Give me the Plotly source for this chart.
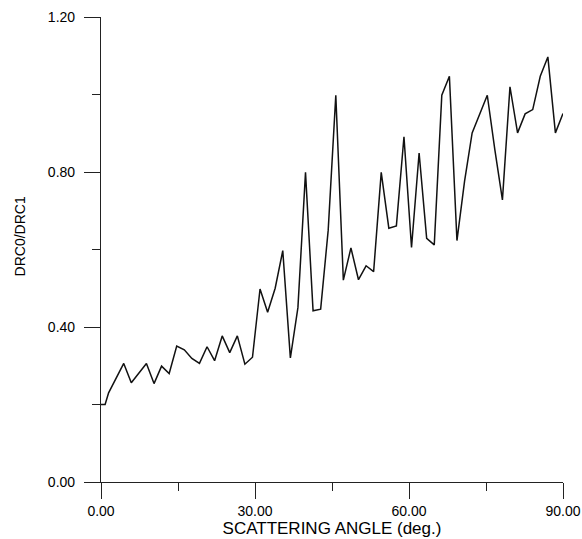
import plotly.graph_objects as go

# Scattering angle (deg.) and DRC0/DRC1 ratio
angle = [0.0, 0.8, 1.48, 2.95, 4.43, 5.9, 7.38, 8.85, 10.33, 11.8, 13.28,
         14.75, 16.23, 17.7, 19.18, 20.66, 22.13, 23.61, 25.08, 26.56, 28.03,
         29.51, 30.98, 32.46, 33.93, 35.41, 36.89, 38.36, 39.84, 41.31, 42.79,
         44.26, 45.74, 47.21, 48.69, 50.16, 51.64, 53.11, 54.59, 56.07, 57.54,
         59.02, 60.49, 61.97, 63.44, 64.92, 66.39, 67.87, 69.34, 70.82, 72.3,
         73.77, 75.25, 76.72, 78.2, 79.67, 81.15, 82.62, 84.1, 85.57, 87.05,
         88.52, 90.0]
ratio = [0.200, 0.200, 0.230, 0.268, 0.306, 0.256, 0.281, 0.306, 0.254, 0.299,
         0.280, 0.351, 0.341, 0.319, 0.306, 0.349, 0.313, 0.377, 0.334, 0.377,
         0.304, 0.322, 0.498, 0.438, 0.500, 0.597, 0.320, 0.450, 0.799, 0.442,
         0.446, 0.650, 0.998, 0.521, 0.604, 0.522, 0.558, 0.543, 0.799, 0.655,
         0.661, 0.891, 0.605, 0.849, 0.629, 0.612, 0.998, 1.047, 0.623, 0.776,
         0.901, 0.948, 0.998, 0.858, 0.728, 1.020, 0.901, 0.950, 0.961, 1.047,
         1.097, 0.901, 0.951]

x_ticks = [0, 30, 60, 90]
x_tick_labels = ["0.00", "30.00", "60.00", "90.00"]
y_ticks = [0, 0.4, 0.8, 1.2]
y_tick_labels = ["0.00", "0.40", "0.80", "1.20"]

FONT = "Liberation Sans, Arial, sans-serif"

fig = go.Figure()
fig.add_trace(go.Scatter(x=angle, y=ratio, mode="lines",
                         line=dict(color="#111111", width=1.5),
                         showlegend=False))

axis_common = dict(showgrid=False, zeroline=False, showline=True,
                   linecolor="#222222", linewidth=1.2, automargin=False,
                   ticks="outside", ticklen=16, tickwidth=1.2, tickcolor="#222222",
                   tickfont=dict(family=FONT, size=14, color="black"))

fig.update_layout(
    width=582, height=539,
    margin=dict(l=101, r=19, t=17, b=57),
    paper_bgcolor="white", plot_bgcolor="white",
    font=dict(family=FONT, color="black"),
    xaxis=dict(range=[0, 90], tickvals=x_ticks, ticktext=x_tick_labels,
               ticklabelstandoff=0,
               minor=dict(dtick=15, ticks="outside", ticklen=8,
                          tickwidth=1.2, tickcolor="#222222", showgrid=False),
               title=dict(text="SCATTERING ANGLE (deg.)",
                          font=dict(family=FONT, size=17, color="black"),
                          standoff=4),
               **axis_common),
    yaxis=dict(range=[0, 1.2], tickvals=y_ticks, ticktext=y_tick_labels,
               ticklabelstandoff=6,
               minor=dict(dtick=0.2, ticks="outside", ticklen=8,
                          tickwidth=1.2, tickcolor="#222222", showgrid=False),
               **axis_common),
    annotations=[dict(text="DRC0/DRC1", textangle=-90,
                      xref="paper", yref="paper", x=-0.1745, y=0.529,
                      xanchor="center", yanchor="middle", showarrow=False,
                      font=dict(family=FONT, size=14, color="black"))],
)

fig.write_html(
    "out.html",
    config={"displayModeBar": False},
    post_script="document.body.style.margin='0';document.body.style.overflow='hidden';",
)
